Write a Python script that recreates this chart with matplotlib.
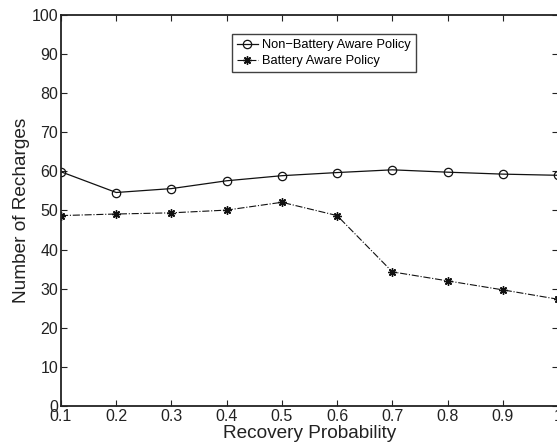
import matplotlib
matplotlib.use('Agg')
from matplotlib import pyplot as plt

plt.rcParams['font.family'] = ['Liberation Sans', 'DejaVu Sans']

prob = [0.1, 0.2, 0.3, 0.4, 0.5, 0.6, 0.7, 0.8, 0.9, 1.0]
non_battery = [59.9, 54.6, 55.6, 57.6, 58.9, 59.7, 60.4, 59.8, 59.3, 59.0]
battery = [48.7, 49.1, 49.4, 50.1, 52.1, 48.7, 34.3, 32.0, 29.7, 27.3]
xtick_labels = ['0.1', '0.2', '0.3', '0.4', '0.5', '0.6', '0.7', '0.8', '0.9', '1']

fig = plt.figure(figsize=(5.57, 4.46), dpi=100)
ax = fig.add_axes([0.1095, 0.0897, 0.8923, 0.8767])

ax.plot(prob, non_battery, '-', color='#111111', lw=0.9, marker='o',
        markersize=6, markerfacecolor='none', markeredgewidth=0.9,
        label='Non\u2212Battery Aware Policy')
# asterisk marker: plus and cross together
ax.plot(prob, battery, '-.', color='#111111', lw=0.8, marker=(8, 2, 0),
        markersize=6, markeredgewidth=1.0,
        label='Battery Aware Policy')

ax.set_xlim(0.1, 1.0)
ax.set_ylim(0, 100)
ax.set_xticks(prob)
ax.set_xticklabels(xtick_labels)
ax.set_yticks(range(0, 101, 10))
ax.tick_params(direction='in', top=True, right=True, length=4, width=0.8,
               labelsize=11.5, colors='#222222', pad=2)
for s in ax.spines.values():
    s.set_linewidth(1.3)
    s.set_color('#222222')

ax.set_xlabel('Recovery Probability', fontsize=13.7, color='#222222', labelpad=1)
ax.set_ylabel('Number of Recharges', fontsize=13.7, color='#222222', labelpad=1.5)

leg = ax.legend(loc='upper left', bbox_to_anchor=(0.344, 0.951), fontsize=9.3,
                frameon=True, fancybox=False, edgecolor='#111111',
                handlelength=1.6, handletextpad=0.35, borderpad=0.4,
                labelspacing=0.3, borderaxespad=0)
leg.get_frame().set_linewidth(1.0)

fig.savefig('out.png', dpi=100)
